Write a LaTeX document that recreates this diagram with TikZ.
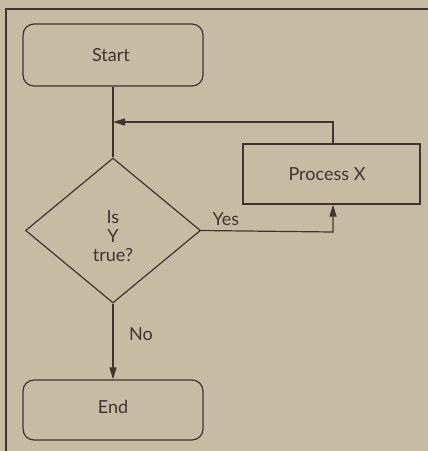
\documentclass[tikz,border=0pt]{standalone}
\usepackage{fontspec}
\setmainfont{Lato}
\usetikzlibrary{arrows.meta,shapes.geometric}
\definecolor{bg}{HTML}{C8BBA4}
\definecolor{ink}{HTML}{3E3530}
\begin{document}
\begin{tikzpicture}[x=1pt,y=-1pt,
  line/.style={draw=ink,line width=1.2pt},
  term/.style={line,rounded corners=11pt,minimum width=180pt,minimum height=62pt},
  procbox/.style={line,minimum width=177pt,minimum height=60pt},
  tip/.style={-{Triangle[length=12pt,width=7pt]}},
  lbl/.style={text=ink,font=\fontsize{18}{20}\selectfont}]
\fill[bg] (0,0) rectangle (428,451);
\useasboundingbox (0,0) rectangle (428,451);
\draw[ink,line width=2.2pt] (6,451) -- (6,9) -- (428,9);
\node[term] (start) at (113,55) {};
\node[lbl] (starttxt) at (111,55) {Start};
\node[term,minimum height=60pt] (end) at (113,410) {};
\node[lbl] (endtxt) at (113,407) {End};
\node[procbox] (proc) at (331.5,174) {};
\node[lbl] (proctxt) at (327,174) {Process X};
\node[line,diamond,minimum width=175pt,minimum height=145pt,inner sep=0pt] (dec) at (113,230.5) {};
\node[lbl,align=center,font=\fontsize{18}{19}\selectfont] (dectxt) at (113,236) {Is\\Y\\true?};
\coordinate (merge) at (113,122);
\coordinate (up) at (333,122);
\coordinate (yc) at (333,232);
\draw[line] (start.south) -- (dec.north);
\draw[line,tip] (proc.north -| up) -- (up) -- (merge);
\draw[line,tip] (dec.east) -- (yc) -- (proc.south -| yc);
\draw[line,tip] (dec.south) -- (end.north);
\node[lbl] (yes) at (226,219) {Yes};
\node[lbl] (no) at (141,334) {No};
\end{tikzpicture}
\end{document}
